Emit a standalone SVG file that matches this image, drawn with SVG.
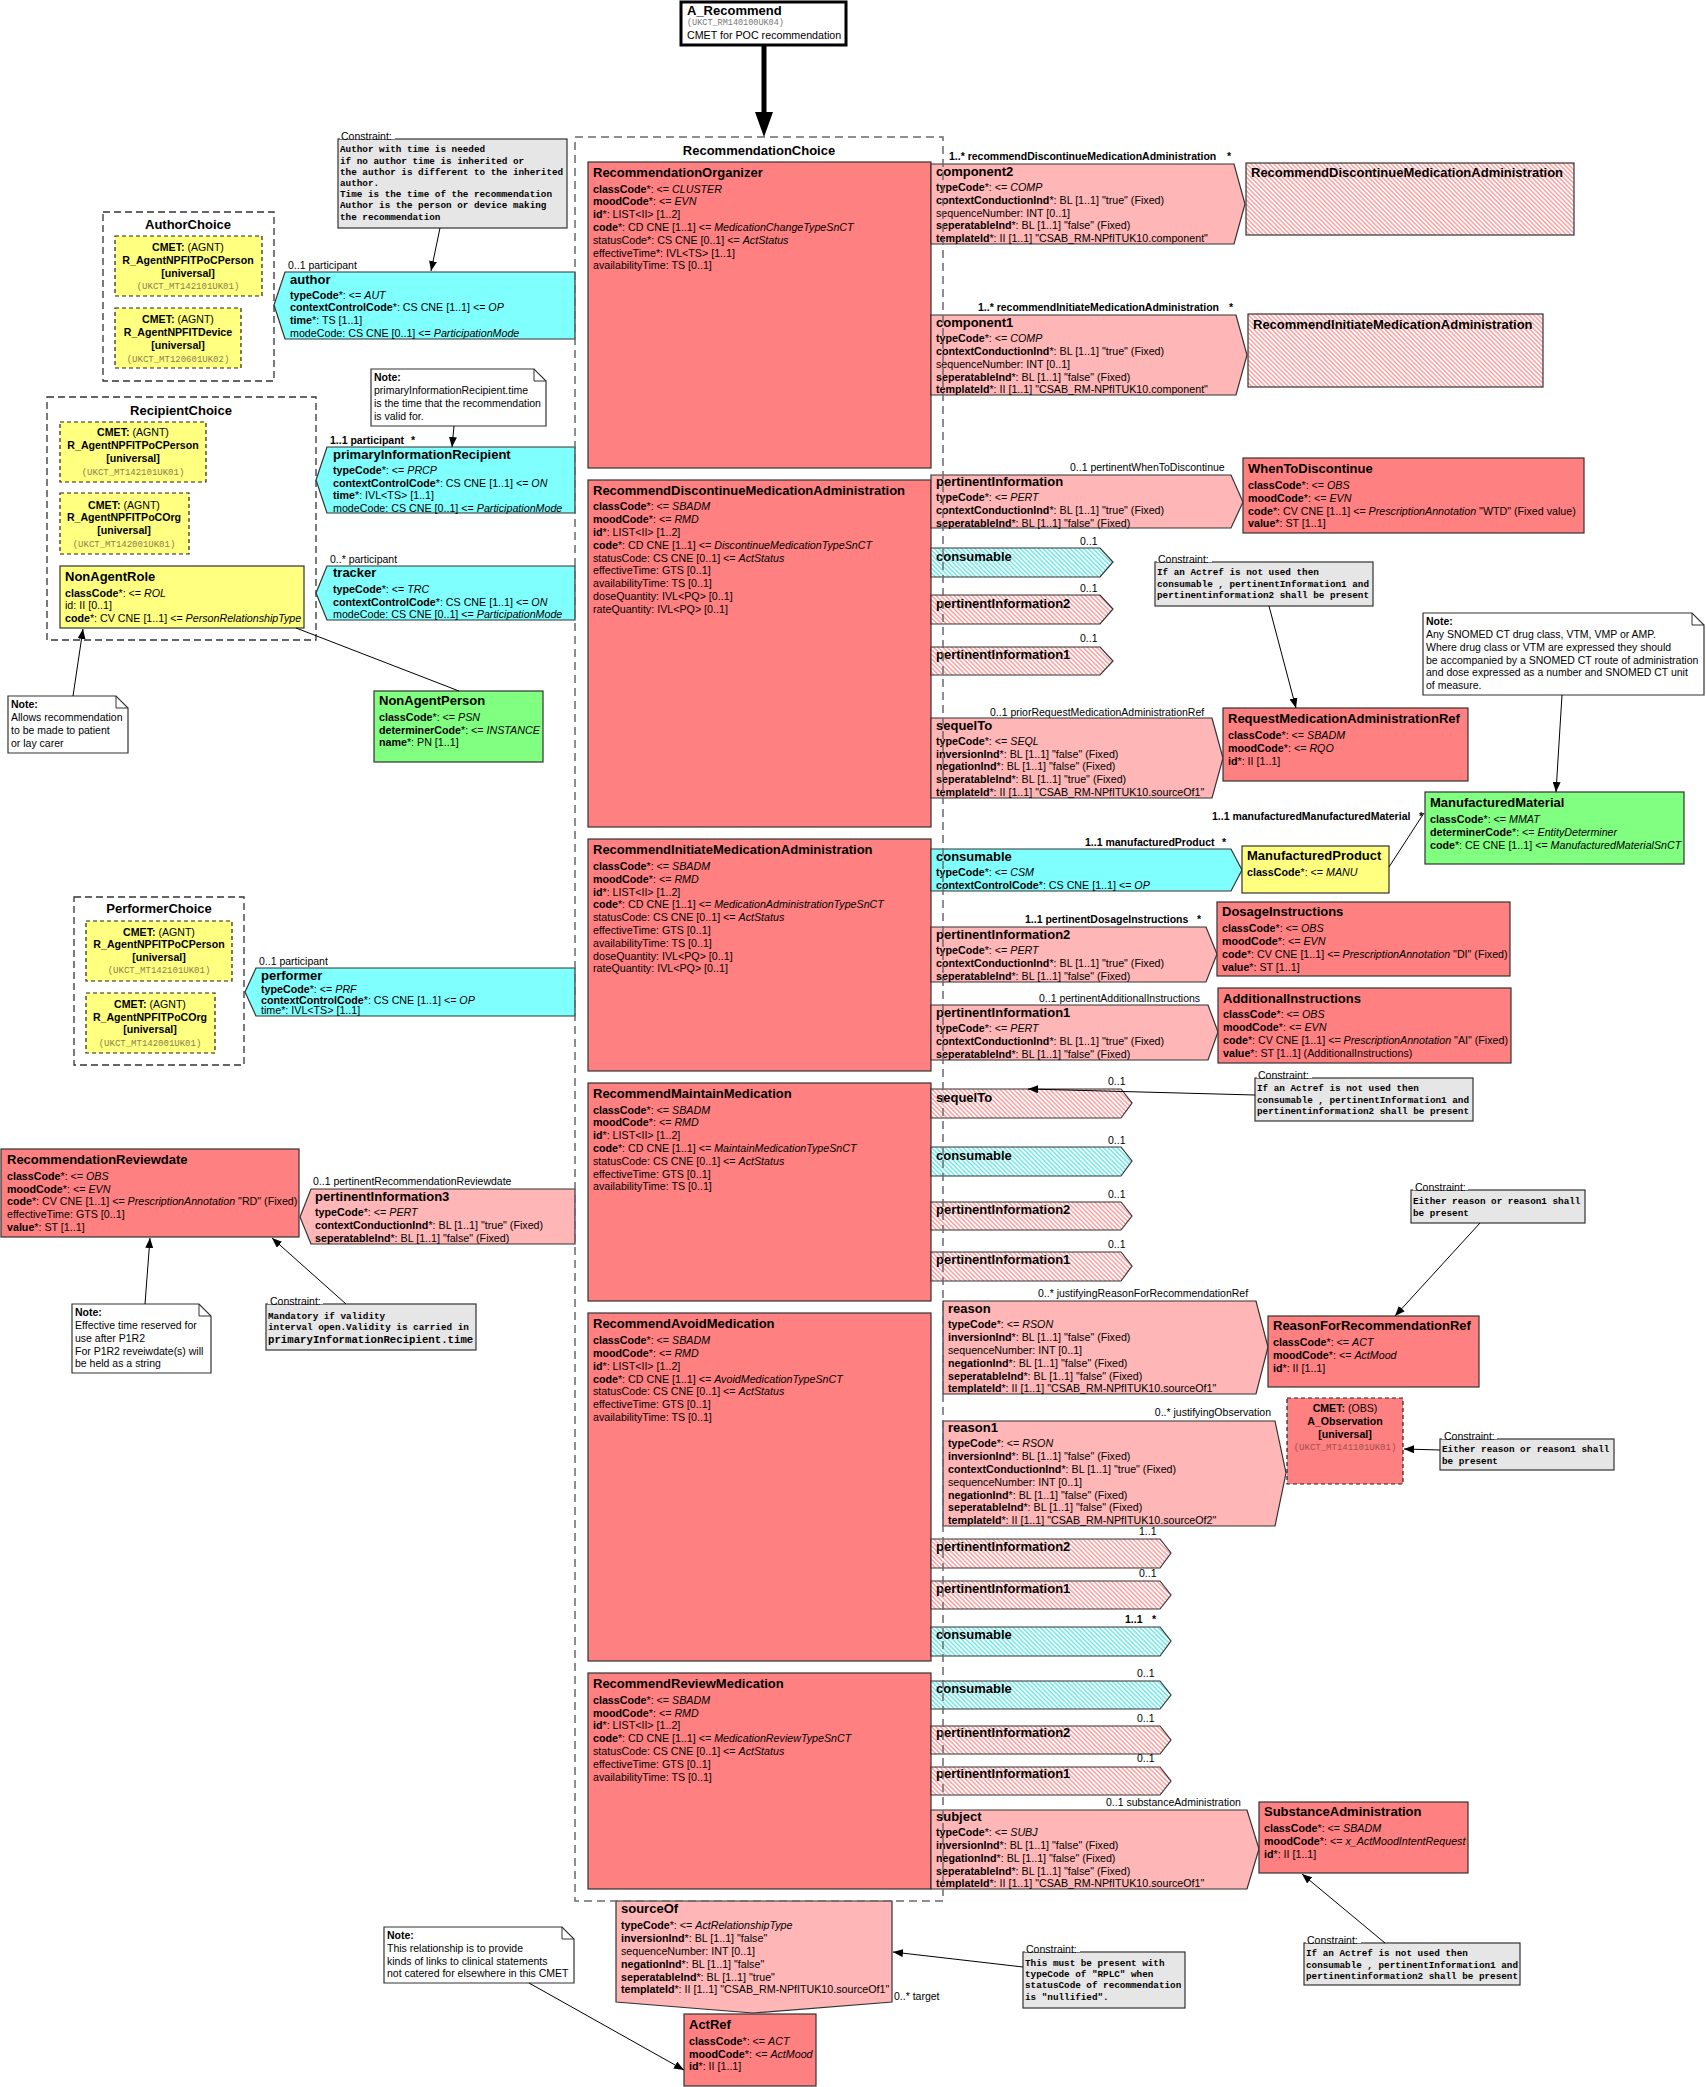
<svg xmlns="http://www.w3.org/2000/svg" width="1706" height="2087" viewBox="0 0 1706 2087">
<defs>
<style>
text{font-family:"Liberation Sans",Arial,sans-serif;fill:#000}
.t{font-size:13px;font-weight:bold}
.a{font-size:10.7px}
.l{font-size:10.5px}
.lb{font-size:10.5px;font-weight:bold}
.n{font-size:10.5px}
.m{font-family:"Liberation Mono","Courier New",monospace;font-size:9.3px;font-weight:bold}
.cm{font-size:10.6px;text-anchor:middle}
.cd{font-family:"Liberation Mono","Courier New",monospace;font-size:9px;fill:#8c7d52;text-anchor:middle}
.ctitle{font-size:13px;font-weight:bold;text-anchor:middle}
.b{font-weight:bold}
.i{font-style:italic}
.act{fill:#ff8080;stroke:#333;stroke-width:1.2}
.rel{fill:#ffb6b6;stroke:#333;stroke-width:1.2}
.par{fill:#80ffff;stroke:#333;stroke-width:1.2}
.role{fill:#ffff80;stroke:#333;stroke-width:1.2}
.ent{fill:#80ff80;stroke:#333;stroke-width:1.2}
.hr{fill:url(#hatchRed);stroke:#333;stroke-width:1.2}
.hc{fill:url(#hatchCyan);stroke:#333;stroke-width:1.2}
.cmet{fill:#ffff80;stroke:#222;stroke-width:1.2;stroke-dasharray:4 3}
.cmetr{fill:#ff8080;stroke:#222;stroke-width:1.2;stroke-dasharray:4 3}
.choice{fill:none;stroke:#333;stroke-width:1.3;stroke-dasharray:7 4}
.rchoice{fill:none;stroke:#6a6a6a;stroke-width:1.5;stroke-dasharray:8 5}
.cons{fill:#e6e6e6;stroke:#333;stroke-width:1.2}
.note{fill:#fff;stroke:#333;stroke-width:1.2}
.lbg{fill:#fff}
.conn{fill:none;stroke:#000;stroke-width:1}
</style>
<pattern id="hatchRed" width="3.2" height="3.2" patternUnits="userSpaceOnUse" patternTransform="rotate(-45)">
<rect width="3.2" height="3.2" fill="#fff"/>
<line x1="0.8" y1="0" x2="0.8" y2="3.2" stroke="#ff8a8a" stroke-width="1.2"/>
</pattern>
<pattern id="hatchCyan" width="3.2" height="3.2" patternUnits="userSpaceOnUse" patternTransform="rotate(-45)">
<rect width="3.2" height="3.2" fill="#fff"/>
<line x1="0.8" y1="0" x2="0.8" y2="3.2" stroke="#4ae6e6" stroke-width="1.2"/>
</pattern>
<marker id="ah" viewBox="0 0 10 8" refX="10" refY="4" markerWidth="10" markerHeight="8" markerUnits="userSpaceOnUse" orient="auto">
<path d="M0,0 L10,4 L0,8 z" fill="#000"/>
</marker>
</defs>

<rect width="1706" height="2087" fill="#fff"/>

<!-- Entry point -->
<g id="A_Recommend">
<rect x="681" y="2" width="165" height="43" fill="#fff" stroke="#000" stroke-width="3"/>
<text class="t" x="687" y="15">A_Recommend</text>
<text x="687" y="25" style="font-family:'Liberation Mono',monospace;font-size:8.5px;fill:#777">(UKCT_RM140100UK04)</text>
<text class="a" x="687" y="39">CMET for POC recommendation</text>
</g>

<!-- Choice containers (left) -->
<g id="AuthorChoice">
<rect class="choice" x="103" y="212" width="171" height="169"/>
<text class="ctitle" x="188" y="229">AuthorChoice</text>
<g id="AuthorChoice_Person">
<rect class="cmet" x="115" y="236" width="147" height="60"/>
<text class="cm" x="188" y="251"><tspan class="b">CMET:</tspan> (AGNT)</text>
<text class="cm b" x="188" y="264">R_AgentNPFITPoCPerson</text>
<text class="cm b" x="188" y="277">[universal]</text>
<text class="cd" x="188" y="289">(UKCT_MT142101UK01)</text>
</g>
<g id="AuthorChoice_Device">
<rect class="cmet" x="115" y="308" width="126" height="60"/>
<text class="cm" x="178" y="323"><tspan class="b">CMET:</tspan> (AGNT)</text>
<text class="cm b" x="178" y="336">R_AgentNPFITDevice</text>
<text class="cm b" x="178" y="349">[universal]</text>
<text class="cd" x="178" y="362">(UKCT_MT120601UK02)</text>
</g>
</g>

<g id="RecipientChoice">
<rect class="choice" x="47" y="397" width="269" height="243"/>
<text class="ctitle" x="181" y="415">RecipientChoice</text>
<g id="RecipientChoice_Person">
<rect class="cmet" x="60" y="422" width="146" height="60"/>
<text class="cm" x="133" y="436"><tspan class="b">CMET:</tspan> (AGNT)</text>
<text class="cm b" x="133" y="449">R_AgentNPFITPoCPerson</text>
<text class="cm b" x="133" y="462">[universal]</text>
<text class="cd" x="133" y="475">(UKCT_MT142101UK01)</text>
</g>
<g id="RecipientChoice_Org">
<rect class="cmet" x="60" y="493" width="129" height="61"/>
<text class="cm" x="124" y="509"><tspan class="b">CMET:</tspan> (AGNT)</text>
<text class="cm b" x="124" y="521">R_AgentNPFITPoCOrg</text>
<text class="cm b" x="124" y="534">[universal]</text>
<text class="cd" x="124" y="547">(UKCT_MT142001UK01)</text>
</g>
<g id="NonAgentRole">
<rect class="role" x="60" y="566" width="244" height="62"/>
<text class="t" x="65" y="581">NonAgentRole</text>
<text class="a" x="65" y="597"><tspan class="b">classCode</tspan>*: &lt;= <tspan class="i">ROL</tspan></text>
<text class="a" x="65" y="609">id: II [0..1]</text>
<text class="a" x="65" y="622"><tspan class="b">code</tspan>*: CV CNE [1..1] &lt;= <tspan class="i">PersonRelationshipType</tspan></text>
</g>
</g>

<g id="NonAgentPerson">
<rect class="ent" x="374" y="691" width="169" height="71"/>
<text class="t" x="379" y="705">NonAgentPerson</text>
<text class="a" x="379" y="721"><tspan class="b">classCode</tspan>*: &lt;= <tspan class="i">PSN</tspan></text>
<text class="a" x="379" y="734"><tspan class="b">determinerCode</tspan>*: &lt;= <tspan class="i">INSTANCE</tspan></text>
<text class="a" x="379" y="746"><tspan class="b">name</tspan>*: PN [1..1]</text>
</g>

<g id="PerformerChoice">
<rect class="choice" x="74" y="897" width="170" height="168"/>
<text class="ctitle" x="159" y="913">PerformerChoice</text>
<g id="PerformerChoice_Person">
<rect class="cmet" x="86" y="921" width="146" height="60"/>
<text class="cm" x="159" y="936"><tspan class="b">CMET:</tspan> (AGNT)</text>
<text class="cm b" x="159" y="948">R_AgentNPFITPoCPerson</text>
<text class="cm b" x="159" y="961">[universal]</text>
<text class="cd" x="159" y="973">(UKCT_MT142101UK01)</text>
</g>
<g id="PerformerChoice_Org">
<rect class="cmet" x="86" y="993" width="129" height="60"/>
<text class="cm" x="150" y="1008"><tspan class="b">CMET:</tspan> (AGNT)</text>
<text class="cm b" x="150" y="1021">R_AgentNPFITPoCOrg</text>
<text class="cm b" x="150" y="1033">[universal]</text>
<text class="cd" x="150" y="1046">(UKCT_MT142001UK01)</text>
</g>
</g>

<g id="RecommendationReviewdate">
<rect class="act" x="1" y="1149" width="298" height="88"/>
<text class="t" x="7" y="1164">RecommendationReviewdate</text>
<text class="a" x="7" y="1180"><tspan class="b">classCode</tspan>*: &lt;= <tspan class="i">OBS</tspan></text>
<text class="a" x="7" y="1193"><tspan class="b">moodCode</tspan>*: &lt;= <tspan class="i">EVN</tspan></text>
<text class="a" x="7" y="1205"><tspan class="b">code</tspan>*: CV CNE [1..1] &lt;= <tspan class="i">PrescriptionAnnotation</tspan> "RD" (Fixed)</text>
<text class="a" x="7" y="1218">effectiveTime: GTS [0..1]</text>
<text class="a" x="7" y="1231"><tspan class="b">value</tspan>*: ST [1..1]</text>
</g>

<!-- Participations (left) -->
<g id="author">
<polygon class="par" points="285,272 575,272 575,339 285,339 274,305"/>
<text class="t" x="290" y="284">author</text>
<text class="a" x="290" y="299"><tspan class="b">typeCode</tspan>*: &lt;= <tspan class="i">AUT</tspan></text>
<text class="a" x="290" y="311"><tspan class="b">contextControlCode</tspan>*: CS CNE [1..1] &lt;= <tspan class="i">OP</tspan></text>
<text class="a" x="290" y="324"><tspan class="b">time</tspan>*: TS [1..1]</text>
<text class="a" x="290" y="337">modeCode: CS CNE [0..1] &lt;= <tspan class="i">ParticipationMode</tspan></text>
<text class="l" x="288" y="269">0..1 participant</text>
</g>

<g id="primaryInformationRecipient">
<polygon class="par" points="327,447 575,447 575,513 327,513 316,480"/>
<text class="t" x="333" y="459">primaryInformationRecipient</text>
<text class="a" x="333" y="474"><tspan class="b">typeCode</tspan>*: &lt;= <tspan class="i">PRCP</tspan></text>
<text class="a" x="333" y="487"><tspan class="b">contextControlCode</tspan>*: CS CNE [1..1] &lt;= <tspan class="i">ON</tspan></text>
<text class="a" x="333" y="499"><tspan class="b">time</tspan>*: IVL&lt;TS&gt; [1..1]</text>
<text class="a" x="333" y="512">modeCode: CS CNE [0..1] &lt;= <tspan class="i">ParticipationMode</tspan></text>
<text class="lb" x="330" y="444">1..1 participant</text>
<text class="lb" x="411" y="444">*</text>
</g>

<g id="tracker">
<polygon class="par" points="327,566 575,566 575,620 327,620 316,593"/>
<text class="t" x="333" y="577">tracker</text>
<text class="a" x="333" y="593"><tspan class="b">typeCode</tspan>*: &lt;= <tspan class="i">TRC</tspan></text>
<text class="a" x="333" y="606"><tspan class="b">contextControlCode</tspan>*: CS CNE [1..1] &lt;= <tspan class="i">ON</tspan></text>
<text class="a" x="333" y="618">modeCode: CS CNE [0..1] &lt;= <tspan class="i">ParticipationMode</tspan></text>
<text class="l" x="330" y="563">0..* participant</text>
</g>

<g id="performer">
<polygon class="par" points="256,968 575,968 575,1016 256,1016 245,992"/>
<text class="t" x="261" y="980">performer</text>
<text class="a" x="261" y="993"><tspan class="b">typeCode</tspan>*: &lt;= <tspan class="i">PRF</tspan></text>
<text class="a" x="261" y="1004"><tspan class="b">contextControlCode</tspan>*: CS CNE [1..1] &lt;= <tspan class="i">OP</tspan></text>
<text class="a" x="261" y="1014">time*: IVL&lt;TS&gt; [1..1]</text>
<text class="l" x="259" y="965">0..1 participant</text>
</g>

<g id="pertinentInformation3">
<polygon class="rel" points="311,1189 575,1189 575,1244 311,1244 300,1217"/>
<text class="t" x="315" y="1201">pertinentInformation3</text>
<text class="a" x="315" y="1216"><tspan class="b">typeCode</tspan>*: &lt;= <tspan class="i">PERT</tspan></text>
<text class="a" x="315" y="1229"><tspan class="b">contextConductionInd</tspan>*: BL [1..1] "true" (Fixed)</text>
<text class="a" x="315" y="1242"><tspan class="b">seperatableInd</tspan>*: BL [1..1] "false" (Fixed)</text>
<text class="l" x="313" y="1185">0..1 pertinentRecommendationReviewdate</text>
</g>

<!-- Notes and constraints (left) -->
<g id="ConstraintAuthor">
<rect class="cons" x="338" y="139" width="229" height="89"/>
<rect class="lbg" x="340" y="129" width="55" height="10"/>
<text class="n" x="341" y="140">Constraint:</text>
<text class="m" x="340" y="152">Author with time is needed</text>
<text class="m" x="340" y="164">if no author time is inherited or</text>
<text class="m" x="340" y="175">the author is different to the inherited</text>
<text class="m" x="340" y="186">author.</text>
<text class="m" x="340" y="197">Time is the time of the recommendation</text>
<text class="m" x="340" y="208">Author is the person or device making</text>
<text class="m" x="340" y="220">the recommendation</text>
</g>

<g id="NoteRecipientTime">
<path class="note" d="M371,369 H534 L546,381 V426 H371 Z"/>
<path d="M534,369 V381 H546" fill="none" stroke="#333" stroke-width="1"/>
<text class="n b" x="374" y="381">Note:</text>
<text class="n" x="374" y="394">primaryInformationRecipient.time</text>
<text class="n" x="374" y="407">is the time that the recommendation</text>
<text class="n" x="374" y="420">is valid for.</text>
</g>

<g id="NoteLayCarer">
<path class="note" d="M8,696 H116 L128,708 V753 H8 Z"/>
<path d="M116,696 V708 H128" fill="none" stroke="#333" stroke-width="1"/>
<text class="n b" x="11" y="708">Note:</text>
<text class="n" x="11" y="721">Allows recommendation</text>
<text class="n" x="11" y="734">to be made to patient</text>
<text class="n" x="11" y="747">or lay carer</text>
</g>

<g id="NoteReviewdate">
<path class="note" d="M72,1304 H199 L211,1316 V1373 H72 Z"/>
<path d="M199,1304 V1316 H211" fill="none" stroke="#333" stroke-width="1"/>
<text class="n b" x="75" y="1316">Note:</text>
<text class="n" x="75" y="1329">Effective time reserved for</text>
<text class="n" x="75" y="1342">use after P1R2</text>
<text class="n" x="75" y="1355">For P1R2 reveiwdate(s)  will</text>
<text class="n" x="75" y="1367">be held as a string</text>
</g>

<g id="ConstraintReviewdate">
<rect class="cons" x="266" y="1304" width="210" height="46"/>
<rect class="lbg" x="268" y="1294" width="55" height="10"/>
<text class="n" x="270" y="1305">Constraint:</text>
<text class="m" x="268" y="1319">Mandatory if validity</text>
<text class="m" x="268" y="1330">interval open.Validity is carried in</text>
<text class="m" x="268" y="1343" style="font-size:10.7px">primaryInformationRecipient.time</text>
</g>

<!-- Recommendation choice and its acts -->
<g id="RecommendationOrganizer">
<rect class="act" x="588" y="162" width="343" height="306"/>
<text class="t" x="593" y="177">RecommendationOrganizer</text>
<text class="a" x="593" y="193"><tspan class="b">classCode</tspan>*: &lt;= <tspan class="i">CLUSTER</tspan></text>
<text class="a" x="593" y="205"><tspan class="b">moodCode</tspan>*: &lt;= <tspan class="i">EVN</tspan></text>
<text class="a" x="593" y="218"><tspan class="b">id</tspan>*: LIST&lt;II&gt; [1..2]</text>
<text class="a" x="593" y="231"><tspan class="b">code</tspan>*: CD CNE [1..1] &lt;= <tspan class="i">MedicationChangeTypeSnCT</tspan></text>
<text class="a" x="593" y="244">statusCode*: CS CNE [0..1] &lt;= <tspan class="i">ActStatus</tspan></text>
<text class="a" x="593" y="257">effectiveTime*: IVL&lt;TS&gt; [1..1]</text>
<text class="a" x="593" y="269">availabilityTime: TS [0..1]</text>
</g>

<g id="RecommendDiscontinueMedicationAdministration">
<rect class="act" x="588" y="480" width="343" height="347"/>
<text class="t" x="593" y="495">RecommendDiscontinueMedicationAdministration</text>
<text class="a" x="593" y="510"><tspan class="b">classCode</tspan>*: &lt;= <tspan class="i">SBADM</tspan></text>
<text class="a" x="593" y="523"><tspan class="b">moodCode</tspan>*: &lt;= <tspan class="i">RMD</tspan></text>
<text class="a" x="593" y="536"><tspan class="b">id</tspan>*: LIST&lt;II&gt; [1..2]</text>
<text class="a" x="593" y="549"><tspan class="b">code</tspan>*: CD CNE [1..1] &lt;= <tspan class="i">DiscontinueMedicationTypeSnCT</tspan></text>
<text class="a" x="593" y="562">statusCode: CS CNE [0..1] &lt;= <tspan class="i">ActStatus</tspan></text>
<text class="a" x="593" y="574">effectiveTime: GTS [0..1]</text>
<text class="a" x="593" y="587">availabilityTime: TS [0..1]</text>
<text class="a" x="593" y="600">doseQuantity: IVL&lt;PQ&gt; [0..1]</text>
<text class="a" x="593" y="613">rateQuantity: IVL&lt;PQ&gt; [0..1]</text>
</g>

<g id="RecommendInitiateMedicationAdministration">
<rect class="act" x="588" y="839" width="343" height="232"/>
<text class="t" x="593" y="854">RecommendInitiateMedicationAdministration</text>
<text class="a" x="593" y="870"><tspan class="b">classCode</tspan>*: &lt;= <tspan class="i">SBADM</tspan></text>
<text class="a" x="593" y="883"><tspan class="b">moodCode</tspan>*: &lt;= <tspan class="i">RMD</tspan></text>
<text class="a" x="593" y="896"><tspan class="b">id</tspan>*: LIST&lt;II&gt; [1..2]</text>
<text class="a" x="593" y="908"><tspan class="b">code</tspan>*: CD CNE [1..1] &lt;= <tspan class="i">MedicationAdministrationTypeSnCT</tspan></text>
<text class="a" x="593" y="921">statusCode: CS CNE [0..1] &lt;= <tspan class="i">ActStatus</tspan></text>
<text class="a" x="593" y="934">effectiveTime: GTS [0..1]</text>
<text class="a" x="593" y="947">availabilityTime: TS [0..1]</text>
<text class="a" x="593" y="960">doseQuantity: IVL&lt;PQ&gt; [0..1]</text>
<text class="a" x="593" y="972">rateQuantity: IVL&lt;PQ&gt; [0..1]</text>
</g>

<g id="RecommendMaintainMedication">
<rect class="act" x="588" y="1083" width="343" height="218"/>
<text class="t" x="593" y="1098">RecommendMaintainMedication</text>
<text class="a" x="593" y="1114"><tspan class="b">classCode</tspan>*: &lt;= <tspan class="i">SBADM</tspan></text>
<text class="a" x="593" y="1126"><tspan class="b">moodCode</tspan>*: &lt;= <tspan class="i">RMD</tspan></text>
<text class="a" x="593" y="1139"><tspan class="b">id</tspan>*: LIST&lt;II&gt; [1..2]</text>
<text class="a" x="593" y="1152"><tspan class="b">code</tspan>*: CD CNE [1..1] &lt;= <tspan class="i">MaintainMedicationTypeSnCT</tspan></text>
<text class="a" x="593" y="1165">statusCode: CS CNE [0..1] &lt;= <tspan class="i">ActStatus</tspan></text>
<text class="a" x="593" y="1178">effectiveTime: GTS [0..1]</text>
<text class="a" x="593" y="1190">availabilityTime: TS [0..1]</text>
</g>

<g id="RecommendAvoidMedication">
<rect class="act" x="588" y="1313" width="343" height="348"/>
<text class="t" x="593" y="1328">RecommendAvoidMedication</text>
<text class="a" x="593" y="1344"><tspan class="b">classCode</tspan>*: &lt;= <tspan class="i">SBADM</tspan></text>
<text class="a" x="593" y="1357"><tspan class="b">moodCode</tspan>*: &lt;= <tspan class="i">RMD</tspan></text>
<text class="a" x="593" y="1370"><tspan class="b">id</tspan>*: LIST&lt;II&gt; [1..2]</text>
<text class="a" x="593" y="1383"><tspan class="b">code</tspan>*: CD CNE [1..1] &lt;= <tspan class="i">AvoidMedicationTypeSnCT</tspan></text>
<text class="a" x="593" y="1395">statusCode: CS CNE [0..1] &lt;= <tspan class="i">ActStatus</tspan></text>
<text class="a" x="593" y="1408">effectiveTime: GTS [0..1]</text>
<text class="a" x="593" y="1421">availabilityTime: TS [0..1]</text>
</g>

<g id="RecommendReviewMedication">
<rect class="act" x="588" y="1673" width="343" height="216"/>
<text class="t" x="593" y="1688">RecommendReviewMedication</text>
<text class="a" x="593" y="1704"><tspan class="b">classCode</tspan>*: &lt;= <tspan class="i">SBADM</tspan></text>
<text class="a" x="593" y="1717"><tspan class="b">moodCode</tspan>*: &lt;= <tspan class="i">RMD</tspan></text>
<text class="a" x="593" y="1729"><tspan class="b">id</tspan>*: LIST&lt;II&gt; [1..2]</text>
<text class="a" x="593" y="1742"><tspan class="b">code</tspan>*: CD CNE [1..1] &lt;= <tspan class="i">MedicationReviewTypeSnCT</tspan></text>
<text class="a" x="593" y="1755">statusCode: CS CNE [0..1] &lt;= <tspan class="i">ActStatus</tspan></text>
<text class="a" x="593" y="1768">effectiveTime: GTS [0..1]</text>
<text class="a" x="593" y="1781">availabilityTime: TS [0..1]</text>
</g>

<!-- Organizer components -->
<g id="component2">
<polygon class="rel" points="931,164 1234,164 1245,204 1234,244 931,244"/>
<text class="t" x="936" y="176">component2</text>
<text class="a" x="936" y="191"><tspan class="b">typeCode</tspan>*: &lt;= <tspan class="i">COMP</tspan></text>
<text class="a" x="936" y="204"><tspan class="b">contextConductionInd</tspan>*: BL [1..1] "true" (Fixed)</text>
<text class="a" x="936" y="217">sequenceNumber: INT [0..1]</text>
<text class="a" x="936" y="229"><tspan class="b">seperatableInd</tspan>*: BL [1..1] "false" (Fixed)</text>
<text class="a" x="936" y="242"><tspan class="b">templateId</tspan>*: II [1..1] "CSAB_RM-NPfITUK10.component"</text>
<text class="lb" x="949" y="160">1..* recommendDiscontinueMedicationAdministration</text>
<text class="lb" x="1227" y="160">*</text>
</g>
<g id="RecommendDiscontinueMedicationAdministration_ref">
<rect class="hr" x="1246" y="163" width="328" height="72"/>
<text class="t" x="1251" y="177">RecommendDiscontinueMedicationAdministration</text>
</g>

<g id="component1">
<polygon class="rel" points="931,315 1236,315 1247,355 1236,395 931,395"/>
<text class="t" x="936" y="327">component1</text>
<text class="a" x="936" y="342"><tspan class="b">typeCode</tspan>*: &lt;= <tspan class="i">COMP</tspan></text>
<text class="a" x="936" y="355"><tspan class="b">contextConductionInd</tspan>*: BL [1..1] "true" (Fixed)</text>
<text class="a" x="936" y="368">sequenceNumber: INT [0..1]</text>
<text class="a" x="936" y="381"><tspan class="b">seperatableInd</tspan>*: BL [1..1] "false" (Fixed)</text>
<text class="a" x="936" y="393"><tspan class="b">templateId</tspan>*: II [1..1] "CSAB_RM-NPfITUK10.component"</text>
<text class="lb" x="978" y="311">1..* recommendInitiateMedicationAdministration</text>
<text class="lb" x="1229" y="311">*</text>
</g>
<g id="RecommendInitiateMedicationAdministration_ref">
<rect class="hr" x="1248" y="314" width="295" height="73"/>
<text class="t" x="1253" y="329">RecommendInitiateMedicationAdministration</text>
</g>

<!-- Discontinue associations -->
<g id="pertinentInformation_WTD">
<polygon class="rel" points="931,475 1231,475 1243,502 1231,528 931,528"/>
<text class="t" x="936" y="486">pertinentInformation</text>
<text class="a" x="936" y="501"><tspan class="b">typeCode</tspan>*: &lt;= <tspan class="i">PERT</tspan></text>
<text class="a" x="936" y="514"><tspan class="b">contextConductionInd</tspan>*: BL [1..1] "true" (Fixed)</text>
<text class="a" x="936" y="527"><tspan class="b">seperatableInd</tspan>*: BL [1..1] "false" (Fixed)</text>
<text class="l" x="1070" y="471">0..1 pertinentWhenToDiscontinue</text>
</g>
<g id="WhenToDiscontinue">
<rect class="act" x="1243" y="458" width="341" height="75"/>
<text class="t" x="1248" y="473">WhenToDiscontinue</text>
<text class="a" x="1248" y="489"><tspan class="b">classCode</tspan>*: &lt;= <tspan class="i">OBS</tspan></text>
<text class="a" x="1248" y="502"><tspan class="b">moodCode</tspan>*: &lt;= <tspan class="i">EVN</tspan></text>
<text class="a" x="1248" y="515"><tspan class="b">code</tspan>*: CV CNE [1..1] &lt;= <tspan class="i">PrescriptionAnnotation</tspan> "WTD" (Fixed value)</text>
<text class="a" x="1248" y="527"><tspan class="b">value</tspan>*: ST [1..1]</text>
</g>

<g id="consumable_D">
<polygon class="hc" points="931,548 1100,548 1113,562 1100,577 931,577"/>
<text class="t" x="936" y="561">consumable</text>
<text class="l" x="1080" y="545">0..1</text>
</g>
<g id="pertinentInformation2_D">
<polygon class="hr" points="931,595 1100,595 1113,609 1100,624 931,624"/>
<text class="t" x="936" y="608">pertinentInformation2</text>
<text class="l" x="1080" y="592">0..1</text>
</g>
<g id="pertinentInformation1_D">
<polygon class="hr" points="931,647 1100,647 1113,661 1100,675 931,675"/>
<text class="t" x="936" y="659">pertinentInformation1</text>
<text class="l" x="1080" y="642">0..1</text>
</g>

<g id="ConstraintDiscontinue">
<rect class="cons" x="1155" y="562" width="218" height="44"/>
<rect class="lbg" x="1157" y="552" width="55" height="10"/>
<text class="n" x="1158" y="563">Constraint:</text>
<text class="m" x="1157" y="575">If an Actref is not used then</text>
<text class="m" x="1157" y="587">consumable , pertinentInformation1 and</text>
<text class="m" x="1157" y="598">pertinentinformation2 shall be present</text>
</g>

<g id="sequelTo_D">
<polygon class="rel" points="931,718 1212,718 1223,758 1212,798 931,798"/>
<text class="t" x="936" y="730">sequelTo</text>
<text class="a" x="936" y="745"><tspan class="b">typeCode</tspan>*: &lt;= <tspan class="i">SEQL</tspan></text>
<text class="a" x="936" y="758"><tspan class="b">inversionInd</tspan>*: BL [1..1] "false" (Fixed)</text>
<text class="a" x="936" y="770"><tspan class="b">negationInd</tspan>*: BL [1..1] "false" (Fixed)</text>
<text class="a" x="936" y="783"><tspan class="b">seperatableInd</tspan>*: BL [1..1] "true" (Fixed)</text>
<text class="a" x="936" y="796"><tspan class="b">templateId</tspan>*: II [1..1] "CSAB_RM-NPfITUK10.sourceOf1"</text>
<text class="l" x="990" y="716">0..1 priorRequestMedicationAdministrationRef</text>
</g>
<g id="RequestMedicationAdministrationRef">
<rect class="act" x="1223" y="708" width="245" height="73"/>
<text class="t" x="1228" y="723">RequestMedicationAdministrationRef</text>
<text class="a" x="1228" y="739"><tspan class="b">classCode</tspan>*: &lt;= <tspan class="i">SBADM</tspan></text>
<text class="a" x="1228" y="752"><tspan class="b">moodCode</tspan>*: &lt;= <tspan class="i">RQO</tspan></text>
<text class="a" x="1228" y="765"><tspan class="b">id</tspan>*: II [1..1]</text>
</g>

<g id="NoteSnomed">
<path class="note" d="M1423,613 H1692 L1704,625 V695 H1423 Z"/>
<path d="M1692,613 V625 H1704" fill="none" stroke="#333" stroke-width="1"/>
<text class="n b" x="1426" y="625">Note:</text>
<text class="n" x="1426" y="638">Any SNOMED CT drug class, VTM, VMP or AMP.</text>
<text class="n" x="1426" y="651">Where drug class or VTM are expressed they should</text>
<text class="n" x="1426" y="664">be accompanied by a SNOMED CT route of administration</text>
<text class="n" x="1426" y="676">and dose expressed as a number and SNOMED CT unit</text>
<text class="n" x="1426" y="689">of measure.</text>
</g>

<g id="ManufacturedMaterial">
<rect class="ent" x="1425" y="792" width="259" height="72"/>
<text class="t" x="1430" y="807">ManufacturedMaterial</text>
<text class="a" x="1430" y="823"><tspan class="b">classCode</tspan>*: &lt;= <tspan class="i">MMAT</tspan></text>
<text class="a" x="1430" y="836"><tspan class="b">determinerCode</tspan>*: &lt;= <tspan class="i">EntityDeterminer</tspan></text>
<text class="a" x="1430" y="849"><tspan class="b">code</tspan>*: CE CNE [1..1] &lt;= <tspan class="i">ManufacturedMaterialSnCT</tspan></text>
</g>

<!-- Initiate associations -->
<g id="consumable_I">
<polygon class="par" points="931,849 1231,849 1242,870 1231,891 931,891"/>
<text class="t" x="936" y="861">consumable</text>
<text class="a" x="936" y="876"><tspan class="b">typeCode</tspan>*: &lt;= <tspan class="i">CSM</tspan></text>
<text class="a" x="936" y="889"><tspan class="b">contextControlCode</tspan>*: CS CNE [1..1] &lt;= <tspan class="i">OP</tspan></text>
<text class="lb" x="1085" y="846">1..1 manufacturedProduct</text>
<text class="lb" x="1222" y="846">*</text>
</g>
<g id="ManufacturedProduct">
<rect class="role" x="1242" y="846" width="147" height="47"/>
<text class="t" x="1247" y="860">ManufacturedProduct</text>
<text class="a" x="1247" y="876"><tspan class="b">classCode</tspan>*: &lt;= <tspan class="i">MANU</tspan></text>
</g>
<text class="lb" x="1212" y="820">1..1 manufacturedManufacturedMaterial</text>
<text class="lb" x="1419" y="820">*</text>

<g id="pertinentInformation2_I">
<polygon class="rel" points="931,927 1206,927 1217,954 1206,982 931,982"/>
<text class="t" x="936" y="939">pertinentInformation2</text>
<text class="a" x="936" y="954"><tspan class="b">typeCode</tspan>*: &lt;= <tspan class="i">PERT</tspan></text>
<text class="a" x="936" y="967"><tspan class="b">contextConductionInd</tspan>*: BL [1..1] "true" (Fixed)</text>
<text class="a" x="936" y="980"><tspan class="b">seperatableInd</tspan>*: BL [1..1] "false" (Fixed)</text>
<text class="lb" x="1025" y="923">1..1 pertinentDosageInstructions</text>
<text class="lb" x="1197" y="923">*</text>
</g>
<g id="DosageInstructions">
<rect class="act" x="1217" y="902" width="293" height="74"/>
<text class="t" x="1222" y="916">DosageInstructions</text>
<text class="a" x="1222" y="932"><tspan class="b">classCode</tspan>*: &lt;= <tspan class="i">OBS</tspan></text>
<text class="a" x="1222" y="945"><tspan class="b">moodCode</tspan>*: &lt;= <tspan class="i">EVN</tspan></text>
<text class="a" x="1222" y="958"><tspan class="b">code</tspan>*: CV CNE [1..1] &lt;= <tspan class="i">PrescriptionAnnotation</tspan> "DI" (Fixed)</text>
<text class="a" x="1222" y="971"><tspan class="b">value</tspan>*: ST [1..1]</text>
</g>

<g id="pertinentInformation1_I">
<polygon class="rel" points="931,1005 1208,1005 1218,1032 1208,1060 931,1060"/>
<text class="t" x="936" y="1017">pertinentInformation1</text>
<text class="a" x="936" y="1032"><tspan class="b">typeCode</tspan>*: &lt;= <tspan class="i">PERT</tspan></text>
<text class="a" x="936" y="1045"><tspan class="b">contextConductionInd</tspan>*: BL [1..1] "true" (Fixed)</text>
<text class="a" x="936" y="1058"><tspan class="b">seperatableInd</tspan>*: BL [1..1] "false" (Fixed)</text>
<text class="l" x="1039" y="1002">0..1 pertinentAdditionalInstructions</text>
</g>
<g id="AdditionalInstructions">
<rect class="act" x="1218" y="988" width="293" height="75"/>
<text class="t" x="1223" y="1003">AdditionalInstructions</text>
<text class="a" x="1223" y="1018"><tspan class="b">classCode</tspan>*: &lt;= <tspan class="i">OBS</tspan></text>
<text class="a" x="1223" y="1031"><tspan class="b">moodCode</tspan>*: &lt;= <tspan class="i">EVN</tspan></text>
<text class="a" x="1223" y="1044"><tspan class="b">code</tspan>*: CV CNE [1..1] &lt;= <tspan class="i">PrescriptionAnnotation</tspan> "AI" (Fixed)</text>
<text class="a" x="1223" y="1057"><tspan class="b">value</tspan>*: ST [1..1] (AdditionalInstructions)</text>
</g>

<g id="ConstraintMaintain">
<rect class="cons" x="1255" y="1078" width="218" height="43"/>
<rect class="lbg" x="1257" y="1068" width="55" height="10"/>
<text class="n" x="1258" y="1079">Constraint:</text>
<text class="m" x="1257" y="1091">If an Actref is not used then</text>
<text class="m" x="1257" y="1103">consumable , pertinentInformation1 and</text>
<text class="m" x="1257" y="1114">pertinentinformation2 shall be present</text>
</g>

<!-- Maintain associations -->
<g id="sequelTo_M">
<polygon class="hr" points="931,1089 1121,1089 1132,1103 1121,1118 931,1118"/>
<text class="t" x="936" y="1102">sequelTo</text>
<text class="l" x="1108" y="1085">0..1</text>
</g>
<g id="consumable_M">
<polygon class="hc" points="931,1147 1121,1147 1132,1161 1121,1176 931,1176"/>
<text class="t" x="936" y="1160">consumable</text>
<text class="l" x="1108" y="1144">0..1</text>
</g>
<g id="pertinentInformation2_M">
<polygon class="hr" points="931,1202 1121,1202 1132,1216 1121,1230 931,1230"/>
<text class="t" x="936" y="1214">pertinentInformation2</text>
<text class="l" x="1108" y="1198">0..1</text>
</g>
<g id="pertinentInformation1_M">
<polygon class="hr" points="931,1252 1121,1252 1132,1266 1121,1281 931,1281"/>
<text class="t" x="936" y="1264">pertinentInformation1</text>
<text class="l" x="1108" y="1248">0..1</text>
</g>

<!-- Choice-level reasons -->
<g id="reason">
<polygon class="rel" points="943,1301 1256,1301 1268,1347 1256,1394 943,1394"/>
<text class="t" x="948" y="1313">reason</text>
<text class="a" x="948" y="1328"><tspan class="b">typeCode</tspan>*: &lt;= <tspan class="i">RSON</tspan></text>
<text class="a" x="948" y="1341"><tspan class="b">inversionInd</tspan>*: BL [1..1] "false" (Fixed)</text>
<text class="a" x="948" y="1354">sequenceNumber: INT [0..1]</text>
<text class="a" x="948" y="1367"><tspan class="b">negationInd</tspan>*: BL [1..1] "false" (Fixed)</text>
<text class="a" x="948" y="1380"><tspan class="b">seperatableInd</tspan>*: BL [1..1] "false" (Fixed)</text>
<text class="a" x="948" y="1392"><tspan class="b">templateId</tspan>*: II [1..1] "CSAB_RM-NPfITUK10.sourceOf1"</text>
<text class="l" x="1038" y="1297">0..* justifyingReasonForRecommendationRef</text>
</g>
<g id="ReasonForRecommendationRef">
<rect class="act" x="1268" y="1316" width="211" height="71"/>
<text class="t" x="1273" y="1330">ReasonForRecommendationRef</text>
<text class="a" x="1273" y="1346"><tspan class="b">classCode</tspan>*: &lt;= <tspan class="i">ACT</tspan></text>
<text class="a" x="1273" y="1359"><tspan class="b">moodCode</tspan>*: &lt;= <tspan class="i">ActMood</tspan></text>
<text class="a" x="1273" y="1372"><tspan class="b">id</tspan>*: II [1..1]</text>
</g>
<g id="ConstraintReason">
<rect class="cons" x="1411" y="1190" width="174" height="33"/>
<rect class="lbg" x="1413" y="1180" width="55" height="10"/>
<text class="n" x="1415" y="1191">Constraint:</text>
<text class="m" x="1413" y="1204">Either reason or reason1 shall</text>
<text class="m" x="1413" y="1216">be present</text>
</g>

<g id="reason1">
<polygon class="rel" points="943,1421 1275,1421 1286,1473 1275,1526 943,1526"/>
<text class="t" x="948" y="1432">reason1</text>
<text class="a" x="948" y="1447"><tspan class="b">typeCode</tspan>*: &lt;= <tspan class="i">RSON</tspan></text>
<text class="a" x="948" y="1460"><tspan class="b">inversionInd</tspan>*: BL [1..1] "false" (Fixed)</text>
<text class="a" x="948" y="1473"><tspan class="b">contextConductionInd</tspan>*: BL [1..1] "true" (Fixed)</text>
<text class="a" x="948" y="1486">sequenceNumber: INT [0..1]</text>
<text class="a" x="948" y="1499"><tspan class="b">negationInd</tspan>*: BL [1..1] "false" (Fixed)</text>
<text class="a" x="948" y="1511"><tspan class="b">seperatableInd</tspan>*: BL [1..1] "false" (Fixed)</text>
<text class="a" x="948" y="1524"><tspan class="b">templateId</tspan>*: II [1..1] "CSAB_RM-NPfITUK10.sourceOf2"</text>
<text class="l" x="1271" y="1416" text-anchor="end">0..* justifyingObservation</text>
</g>
<g id="A_Observation">
<rect class="cmetr" x="1287" y="1398" width="116" height="86"/>
<text class="cm" x="1345" y="1412"><tspan class="b">CMET:</tspan> (OBS)</text>
<text class="cm b" x="1345" y="1425">A_Observation</text>
<text class="cm b" x="1345" y="1438">[universal]</text>
<text class="cd" x="1345" y="1450" style="fill:#a05050">(UKCT_MT141101UK01)</text>
</g>
<g id="ConstraintObservation">
<rect class="cons" x="1440" y="1439" width="174" height="31"/>
<rect class="lbg" x="1442" y="1429" width="55" height="10"/>
<text class="n" x="1444" y="1440">Constraint:</text>
<text class="m" x="1442" y="1452">Either reason or reason1 shall</text>
<text class="m" x="1442" y="1464">be present</text>
</g>

<!-- Avoid associations -->
<g id="pertinentInformation2_A">
<polygon class="hr" points="931,1539 1160,1539 1171,1553 1160,1568 931,1568"/>
<text class="t" x="936" y="1551">pertinentInformation2</text>
<text class="l" x="1139" y="1535">1..1</text>
</g>
<g id="pertinentInformation1_A">
<polygon class="hr" points="931,1581 1160,1581 1171,1595 1160,1609 931,1609"/>
<text class="t" x="936" y="1593">pertinentInformation1</text>
<text class="l" x="1139" y="1577">0..1</text>
</g>
<g id="consumable_A">
<polygon class="hc" points="931,1627 1160,1627 1171,1641 1160,1656 931,1656"/>
<text class="t" x="936" y="1639">consumable</text>
<text class="lb" x="1125" y="1623">1..1</text>
<text class="lb" x="1152" y="1623">*</text>
</g>

<!-- Review associations -->
<g id="consumable_R">
<polygon class="hc" points="931,1681 1160,1681 1171,1695 1160,1709 931,1709"/>
<text class="t" x="936" y="1693">consumable</text>
<text class="l" x="1137" y="1677">0..1</text>
</g>
<g id="pertinentInformation2_R">
<polygon class="hr" points="931,1726 1160,1726 1171,1740 1160,1754 931,1754"/>
<text class="t" x="936" y="1737">pertinentInformation2</text>
<text class="l" x="1137" y="1722">0..1</text>
</g>
<g id="pertinentInformation1_R">
<polygon class="hr" points="931,1767 1160,1767 1171,1781 1160,1795 931,1795"/>
<text class="t" x="936" y="1778">pertinentInformation1</text>
<text class="l" x="1137" y="1762">0..1</text>
</g>
<g id="subject">
<polygon class="rel" points="931,1810 1247,1810 1259,1849 1247,1889 931,1889"/>
<text class="t" x="936" y="1821">subject</text>
<text class="a" x="936" y="1836"><tspan class="b">typeCode</tspan>*: &lt;= <tspan class="i">SUBJ</tspan></text>
<text class="a" x="936" y="1849"><tspan class="b">inversionInd</tspan>*: BL [1..1] "false" (Fixed)</text>
<text class="a" x="936" y="1862"><tspan class="b">negationInd</tspan>*: BL [1..1] "false" (Fixed)</text>
<text class="a" x="936" y="1875"><tspan class="b">seperatableInd</tspan>*: BL [1..1] "false" (Fixed)</text>
<text class="a" x="936" y="1887"><tspan class="b">templateId</tspan>*: II [1..1] "CSAB_RM-NPfITUK10.sourceOf1"</text>
<text class="l" x="1106" y="1806">0..1 substanceAdministration</text>
</g>
<g id="SubstanceAdministration">
<rect class="act" x="1259" y="1802" width="209" height="71"/>
<text class="t" x="1264" y="1816">SubstanceAdministration</text>
<text class="a" x="1264" y="1832"><tspan class="b">classCode</tspan>*: &lt;= <tspan class="i">SBADM</tspan></text>
<text class="a" x="1264" y="1845"><tspan class="b">moodCode</tspan>*: &lt;= <tspan class="i">x_ActMoodIntentRequest</tspan></text>
<text class="a" x="1264" y="1858"><tspan class="b">id</tspan>*: II [1..1]</text>
</g>
<g id="ConstraintReview">
<rect class="cons" x="1304" y="1943" width="216" height="42"/>
<rect class="lbg" x="1306" y="1933" width="55" height="10"/>
<text class="n" x="1307" y="1944">Constraint:</text>
<text class="m" x="1306" y="1956">If an Actref is not used then</text>
<text class="m" x="1306" y="1968">consumable , pertinentInformation1 and</text>
<text class="m" x="1306" y="1979">pertinentinformation2 shall be present</text>
</g>

<!-- sourceOf / ActRef -->
<g id="sourceOf">
<polygon class="rel" points="616,1901 892,1901 892,2002 753,2013 616,2002"/>
<text class="t" x="621" y="1913">sourceOf</text>
<text class="a" x="621" y="1929"><tspan class="b">typeCode</tspan>*: &lt;= <tspan class="i">ActRelationshipType</tspan></text>
<text class="a" x="621" y="1942"><tspan class="b">inversionInd</tspan>*: BL [1..1] "false"</text>
<text class="a" x="621" y="1955">sequenceNumber: INT [0..1]</text>
<text class="a" x="621" y="1968"><tspan class="b">negationInd</tspan>*: BL [1..1] "false"</text>
<text class="a" x="621" y="1981"><tspan class="b">seperatableInd</tspan>*: BL [1..1] "true"</text>
<text class="a" x="621" y="1993"><tspan class="b">templateId</tspan>*: II [1..1] "CSAB_RM-NPfITUK10.sourceOf1"</text>
<text class="l" x="894" y="2000">0..* target</text>
</g>
<g id="ActRef">
<rect class="act" x="684" y="2014" width="132" height="72"/>
<text class="t" x="689" y="2029">ActRef</text>
<text class="a" x="689" y="2045"><tspan class="b">classCode</tspan>*: &lt;= <tspan class="i">ACT</tspan></text>
<text class="a" x="689" y="2058"><tspan class="b">moodCode</tspan>*: &lt;= <tspan class="i">ActMood</tspan></text>
<text class="a" x="689" y="2070"><tspan class="b">id</tspan>*: II [1..1]</text>
</g>
<g id="NoteSourceOf">
<path class="note" d="M384,1927 H562 L574,1939 V1983 H384 Z"/>
<path d="M562,1927 V1939 H574" fill="none" stroke="#333" stroke-width="1"/>
<text class="n b" x="387" y="1939">Note:</text>
<text class="n" x="387" y="1952">This relationship is to provide</text>
<text class="n" x="387" y="1965">kinds of links to clinical statements</text>
<text class="n" x="387" y="1977">not catered for elsewhere in this CMET</text>
</g>
<g id="ConstraintSourceOf">
<rect class="cons" x="1023" y="1952" width="162" height="56"/>
<rect class="lbg" x="1025" y="1942" width="55" height="10"/>
<text class="n" x="1026" y="1953">Constraint:</text>
<text class="m" x="1025" y="1966">This must be present with</text>
<text class="m" x="1025" y="1977">typeCode of "RPLC" when</text>
<text class="m" x="1025" y="1988">statusCode of recommendation</text>
<text class="m" x="1025" y="2000">is "nullified".</text>
</g>

<!-- RecommendationChoice container, drawn over the association shapes -->
<g id="RecommendationChoice">
<rect class="rchoice" x="575" y="137" width="368" height="1764"/>
<text class="ctitle" x="759" y="155">RecommendationChoice</text>
</g>

<!-- Connectors -->
<g id="connectors">
<line x1="764" y1="45" x2="764" y2="114" stroke="#000" stroke-width="5"/>
<polygon points="755,112 773,112 764,137" fill="#000"/>
<line class="conn" x1="440" y1="228" x2="431" y2="271" marker-end="url(#ah)"/>
<line class="conn" x1="454" y1="426" x2="452" y2="447" marker-end="url(#ah)"/>
<line class="conn" x1="73" y1="696" x2="83" y2="629" marker-end="url(#ah)"/>
<line class="conn" x1="296" y1="628" x2="459" y2="691"/>
<line class="conn" x1="145" y1="1304" x2="150" y2="1238" marker-end="url(#ah)"/>
<line class="conn" x1="346" y1="1304" x2="272" y2="1238" marker-end="url(#ah)"/>
<line class="conn" x1="1269" y1="606" x2="1296" y2="708" marker-end="url(#ah)"/>
<line class="conn" x1="1562" y1="695" x2="1556" y2="792" marker-end="url(#ah)"/>
<line class="conn" x1="1389" y1="867" x2="1424" y2="813"/>
<line class="conn" x1="1255" y1="1095" x2="1028" y2="1089" marker-end="url(#ah)"/>
<line class="conn" x1="1480" y1="1223" x2="1395" y2="1316" marker-end="url(#ah)"/>
<line class="conn" x1="1440" y1="1450" x2="1404" y2="1449" marker-end="url(#ah)"/>
<line class="conn" x1="1385" y1="1943" x2="1302" y2="1874" marker-end="url(#ah)"/>
<line class="conn" x1="1023" y1="1967" x2="893" y2="1952" marker-end="url(#ah)"/>
<line class="conn" x1="529" y1="1983" x2="684" y2="2070" marker-end="url(#ah)"/>
</g>
</svg>
